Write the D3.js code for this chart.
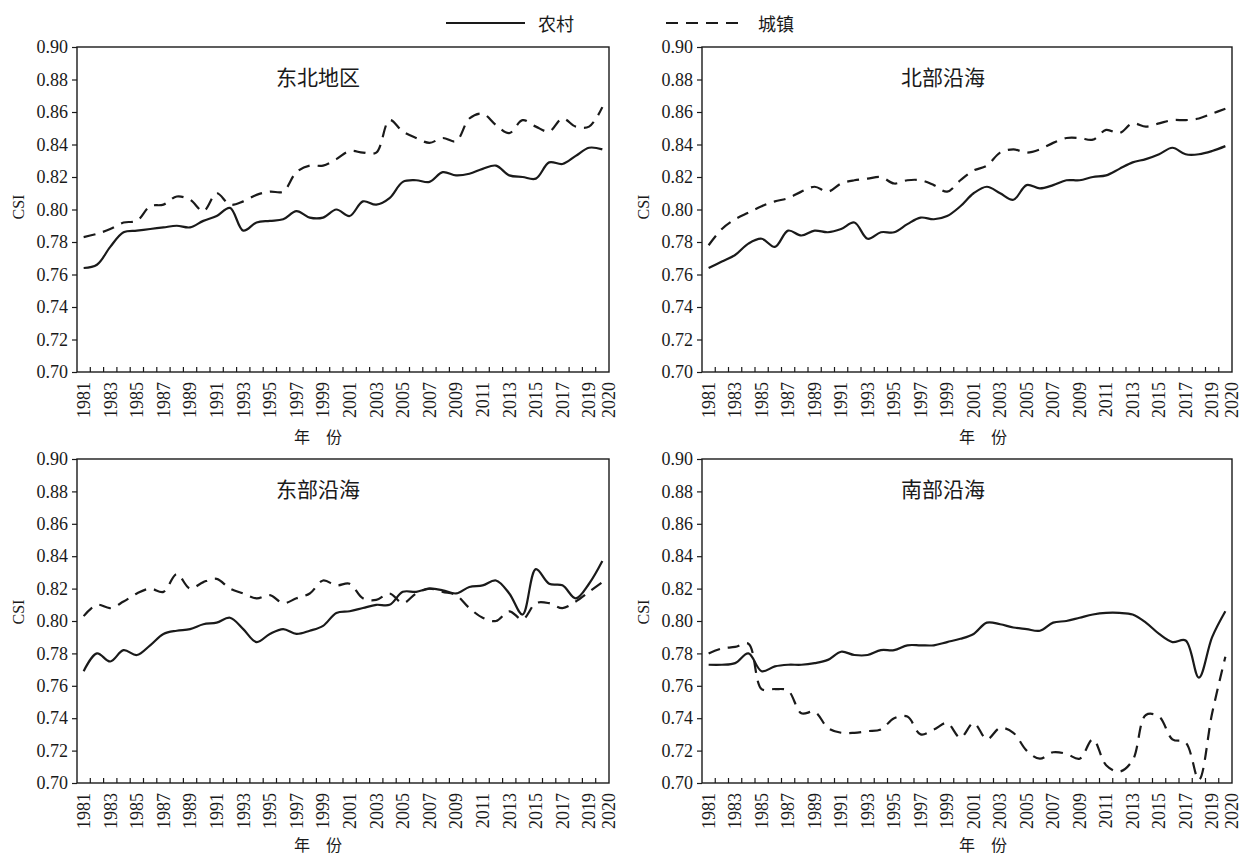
<!DOCTYPE html>
<html>
<head>
<meta charset="utf-8">
<script src="https://cdn.jsdelivr.net/npm/d3@7"></script>
<style>
  body { margin: 0; background: #fff; }
  svg { display: block; }
</style>
</head>
<body>
<svg id="chart" width="1243" height="855"></svg>
<script>
// ---- data ----
const years = [1981,1982,1983,1984,1985,1986,1987,1988,1989,1990,
               1991,1992,1993,1994,1995,1996,1997,1998,1999,2000,
               2001,2002,2003,2004,2005,2006,2007,2008,2009,2010,
               2011,2012,2013,2014,2015,2016,2017,2018,2019,2020];
const xLabelYears = [1981,1983,1985,1987,1989,1991,1993,1995,1997,1999,
                     2001,2003,2005,2007,2009,2011,2013,2015,2017,2019,2020];
const yTickValues = [0.70,0.72,0.74,0.76,0.78,0.80,0.82,0.84,0.86,0.88,0.90];
const seriesNames = ["农村", "城镇"];
const regionNames = ["东北地区", "北部沿海", "东部沿海", "南部沿海"];

// 东北地区
const neRural = [0.764,0.766,0.777,0.786,0.787,0.788,0.789,0.790,0.789,0.793,
                 0.796,0.801,0.787,0.792,0.793,0.794,0.799,0.795,0.795,0.800,
                 0.796,0.805,0.803,0.807,0.817,0.818,0.817,0.823,0.821,0.822,
                 0.825,0.827,0.821,0.820,0.819,0.829,0.828,0.833,0.838,0.837];
const neUrban = [0.783,0.785,0.788,0.792,0.793,0.802,0.803,0.808,0.806,0.799,
                 0.810,0.803,0.805,0.809,0.811,0.811,0.823,0.827,0.827,0.831,
                 0.836,0.835,0.835,0.855,0.848,0.844,0.841,0.844,0.842,0.856,
                 0.859,0.852,0.847,0.855,0.851,0.848,0.856,0.851,0.851,0.863];
// 北部沿海
const ncRural = [0.764,0.768,0.772,0.779,0.782,0.777,0.787,0.784,0.787,0.786,
                 0.788,0.792,0.782,0.786,0.786,0.791,0.795,0.794,0.796,0.802,
                 0.810,0.814,0.810,0.806,0.815,0.813,0.815,0.818,0.818,0.820,
                 0.821,0.825,0.829,0.831,0.834,0.838,0.834,0.834,0.836,0.839];
const ncUrban = [0.778,0.788,0.794,0.798,0.802,0.805,0.807,0.811,0.814,0.811,
                 0.816,0.818,0.819,0.820,0.816,0.818,0.818,0.815,0.811,0.818,
                 0.824,0.827,0.835,0.837,0.835,0.837,0.841,0.844,0.844,0.843,
                 0.849,0.847,0.853,0.851,0.853,0.855,0.855,0.856,0.859,0.862];
// 东部沿海
const ecRural = [0.769,0.780,0.775,0.782,0.779,0.785,0.792,0.794,0.795,0.798,
                 0.799,0.802,0.795,0.787,0.792,0.795,0.792,0.794,0.797,0.805,
                 0.806,0.808,0.810,0.810,0.818,0.818,0.820,0.819,0.817,0.821,
                 0.822,0.825,0.817,0.804,0.832,0.823,0.822,0.814,0.823,0.837];
const ecUrban = [0.803,0.810,0.808,0.812,0.817,0.820,0.818,0.829,0.820,0.824,
                 0.826,0.820,0.817,0.814,0.816,0.811,0.814,0.817,0.825,0.822,
                 0.823,0.814,0.813,0.817,0.811,0.817,0.820,0.818,0.816,0.808,
                 0.802,0.800,0.806,0.801,0.811,0.811,0.808,0.812,0.818,0.824];
// 南部沿海
const scRural = [0.773,0.773,0.774,0.780,0.769,0.772,0.773,0.773,0.774,0.776,
                 0.781,0.779,0.779,0.782,0.782,0.785,0.785,0.785,0.787,0.789,
                 0.792,0.799,0.798,0.796,0.795,0.794,0.799,0.800,0.802,0.804,
                 0.805,0.805,0.804,0.799,0.792,0.787,0.788,0.765,0.790,0.806];
const scUrban = [0.780,0.783,0.784,0.786,0.758,0.758,0.757,0.743,0.744,0.734,
                 0.731,0.731,0.732,0.733,0.740,0.741,0.730,0.733,0.737,0.728,
                 0.737,0.727,0.734,0.731,0.720,0.715,0.719,0.718,0.715,0.727,
                 0.711,0.707,0.714,0.742,0.741,0.727,0.725,0.702,0.743,0.778];

const ruralSeries = [neRural, ncRural, ecRural, scRural];
const urbanSeries = [neUrban, ncUrban, ecUrban, scUrban];

// ---- layout ----
const panelBoxes = [
  { left: 77,  right: 609,  top: 47,  bottom: 372, csiY: 207, xTitleDX: 241, xTitleDY: 64 },
  { left: 702, right: 1232, top: 47,  bottom: 372, csiY: 207, xTitleDX: 281, xTitleDY: 64 },
  { left: 77,  right: 609,  top: 459, bottom: 783, csiY: 612, xTitleDX: 241, xTitleDY: 61 },
  { left: 702, right: 1232, top: 459, bottom: 783, csiY: 612, xTitleDX: 281, xTitleDY: 61 }
];

const ink = "#1a1a1a";
const numFont = "'Liberation Serif', 'Times New Roman', serif";
const cjkFont = "'Noto Sans CJK SC', sans-serif";
const dash = "12,8";

const svg = d3.select("#chart");
svg.append("rect").attr("width", 1243).attr("height", 855).attr("fill", "#fff");

// legend
const legend = svg.append("g");
legend.append("line").attr("x1", 446).attr("x2", 525).attr("y1", 23).attr("y2", 23)
  .attr("stroke", ink).attr("stroke-width", 2);
legend.append("text").attr("x", 538).attr("y", 23).attr("dominant-baseline", "central")
  .style("font-family", cjkFont).style("font-size", "18px").attr("fill", ink)
  .text(seriesNames[0]);
legend.append("line").attr("x1", 666).attr("x2", 742).attr("y1", 23).attr("y2", 23)
  .attr("stroke", ink).attr("stroke-width", 2).attr("stroke-dasharray", dash);
legend.append("text").attr("x", 758).attr("y", 23).attr("dominant-baseline", "central")
  .style("font-family", cjkFont).style("font-size", "18px").attr("fill", ink)
  .text(seriesNames[1]);

panelBoxes.forEach((b, p) => {
  const g = svg.append("g");

  const x = d3.scaleBand().domain(years).range([b.left, b.right]).padding(0);
  const y = d3.scaleLinear().domain([0.70, 0.90]).range([b.bottom, b.top]);
  const cx = yr => x(yr) + x.bandwidth() / 2;

  const line = d3.line()
    .x((d, i) => cx(years[i]))
    .y(d => y(d))
    .curve(d3.curveCatmullRom.alpha(0.5));

  // y axis
  const yAxis = g.append("g")
    .attr("transform", `translate(${b.left},0)`)
    .call(d3.axisLeft(y).tickValues(yTickValues).tickFormat(d3.format(".2f"))
      .tickSize(5).tickPadding(4));
  yAxis.select(".domain").remove();
  yAxis.selectAll("line").attr("stroke", ink).attr("stroke-width", 1.2);
  yAxis.selectAll("text").style("font-family", numFont).style("font-size", "18px")
    .attr("fill", ink);

  // x axis labels
  const xAxis = g.append("g")
    .attr("transform", `translate(0,${b.bottom})`)
    .call(d3.axisBottom(x).tickValues(xLabelYears).tickSize(0));
  xAxis.select(".domain").remove();
  xAxis.selectAll(".tick")
    .filter(d => d === 2020)
    .attr("transform", `translate(${b.right},0)`);
  xAxis.selectAll("text")
    .attr("transform", "rotate(-90)")
    .attr("x", -10).attr("y", 0).attr("dy", "0.35em")
    .style("text-anchor", "end")
    .style("font-family", numFont).style("font-size", "18px")
    .attr("fill", ink);

  // inward category ticks between years
  g.append("g").selectAll("line")
    .data(years.slice(1))
    .join("line")
    .attr("x1", d => x(d)).attr("x2", d => x(d))
    .attr("y1", b.bottom).attr("y2", b.bottom - 5)
    .attr("stroke", ink).attr("stroke-width", 1.2);

  // frame
  g.append("rect")
    .attr("x", b.left).attr("y", b.top)
    .attr("width", b.right - b.left).attr("height", b.bottom - b.top)
    .attr("fill", "none").attr("stroke", ink).attr("stroke-width", 1.4);

  // series
  g.append("path").datum(urbanSeries[p])
    .attr("d", line).attr("fill", "none")
    .attr("stroke", ink).attr("stroke-width", 2.2)
    .attr("stroke-dasharray", dash);
  g.append("path").datum(ruralSeries[p])
    .attr("d", line).attr("fill", "none")
    .attr("stroke", ink).attr("stroke-width", 2.2);

  // region title
  g.append("text")
    .attr("x", b.left + 241).attr("y", b.top + 29)
    .attr("text-anchor", "middle").attr("dominant-baseline", "central")
    .style("font-family", cjkFont).style("font-size", "21px")
    .attr("fill", ink).text(regionNames[p]);

  // axis titles
  g.append("text")
    .attr("transform", `translate(${b.left - 59},${b.csiY}) rotate(-90)`)
    .attr("text-anchor", "middle").attr("dominant-baseline", "central")
    .style("font-family", numFont).style("font-size", "16px")
    .attr("fill", ink).text("CSI");
  g.append("text")
    .attr("x", b.left + b.xTitleDX).attr("y", b.bottom + b.xTitleDY)
    .attr("text-anchor", "middle").attr("dominant-baseline", "central")
    .style("font-family", cjkFont).style("font-size", "16px")
    .attr("fill", ink).text("年\u3000份");
});
</script>
</body>
</html>
